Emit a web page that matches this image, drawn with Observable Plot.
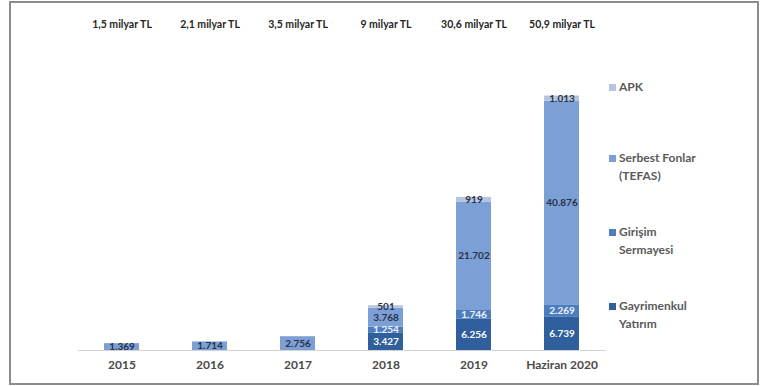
<!DOCTYPE html>
<html>
<head>
<meta charset="utf-8">
<script src="https://cdn.jsdelivr.net/npm/d3@7"></script>
<script src="https://cdn.jsdelivr.net/npm/@observablehq/plot@0.6"></script>
<style>
  html, body { margin: 0; padding: 0; background: #ffffff; }
  #wrap { position: relative; width: 761px; height: 386px; font-family: Lato, "Open Sans", sans-serif; }
  #border { position: absolute; left: 9px; top: 1px; width: 746px; height: 380px; border: 2px solid #8c8c8c; }
  #chart { position: absolute; left: 0; top: 0; }
  #legend { position: absolute; left: 609px; top: 0; font-weight: 700; font-size: 12px; color: #5a5a5a; line-height: 18px; }
  .item { position: absolute; left: 0; white-space: nowrap; padding-left: 10px; }
  .sw { position: absolute; left: 0; top: 6px; width: 7px; height: 7px; }
</style>
</head>
<body>
<div id="wrap">
  <div id="border"></div>
  <div id="chart"></div>
  <div id="legend"></div>
</div>
<script>
const categories = ["2015", "2016", "2017", "2018", "2019", "Haziran 2020"];
const totalLabels = ["1,5 milyar TL", "2,1 milyar TL", "3,5 milyar TL", "9 milyar TL", "30,6 milyar TL", "50,9 milyar TL"];
const seriesNames = ["Gayrimenkul Yatırım", "Girişim Sermayesi", "Serbest Fonlar (TEFAS)", "APK"];
const seriesColors = ["#2f5f9c", "#4d7dbd", "#7c9fd5", "#b7c4de"];
const labelColors = ["#ffffff", "#eef2fa", "#27324a", "#27324a"];
// values in million TL
const gayrimenkul = [0, 0, 0, 3427, 6256, 6739];
const girisim = [0, 0, 0, 1254, 1746, 2269];
const serbest = [1369, 1714, 2756, 3768, 21702, 40876];
const apk = [0, 0, 0, 501, 919, 1013];
const legendLines = [["APK"], ["Serbest Fonlar", "(TEFAS)"], ["Girişim", "Sermayesi"], ["Gayrimenkul", "Yatırım"]];

const seriesValues = [gayrimenkul, girisim, serbest, apk];
const fmt = v => d3.format(",")(v).replace(/,/g, ".");
const rows = [];
seriesNames.forEach((s, si) => {
  categories.forEach((c, ci) => {
    const v = seriesValues[si][ci];
    if (v > 0) rows.push({cat: c, series: s, value: v, label: fmt(v), tc: labelColors[si]});
  });
});
const tops = categories.map((c, i) => ({cat: c, text: totalLabels[i]}));

const chart = Plot.plot({
  width: 761,
  height: 386,
  marginLeft: 78,
  marginRight: 155,
  marginTop: 40,
  marginBottom: 36,
  style: {background: "transparent", fontFamily: "Lato, 'Open Sans', sans-serif"},
  x: {domain: categories, paddingInner: 0.6, paddingOuter: 0.3, label: null},
  y: {domain: [0, 62000], axis: null},
  color: {domain: seriesNames, range: seriesColors},
  marks: [
    Plot.barY(rows, Plot.stackY({x: "cat", y: "value", z: "series", fill: "series", order: seriesNames})),
    Plot.ruleY([0], {stroke: "#d4d4d4", strokeWidth: 1.2}),
    Plot.text(rows, Plot.stackY({x: "cat", y: "value", z: "series", order: seriesNames, text: "label", fill: "tc", fontSize: 10, fontWeight: 700})),
    Plot.text(tops, {x: "cat", text: "text", frameAnchor: "top", dy: -20, fontSize: 10.5, fontWeight: 700, fill: "#262626"}),
    Plot.axisX({tickSize: 0, tickPadding: 10, fontSize: 12, fontWeight: 700, color: "#4a4a4a", label: null})
  ]
});
document.getElementById("chart").appendChild(chart);

const legendTops = [78, 149, 223, 297];
const leg = document.getElementById("legend");
legendLines.forEach((lines, i) => {
  const name = seriesNames[seriesNames.length - 1 - i];
  const color = seriesColors[seriesNames.indexOf(name)];
  const d = document.createElement("div");
  d.className = "item";
  d.style.top = legendTops[i] + "px";
  d.innerHTML = `<span class="sw" style="background:${color}"></span>` + lines.join("<br>");
  leg.appendChild(d);
});
</script>
</body>
</html>
